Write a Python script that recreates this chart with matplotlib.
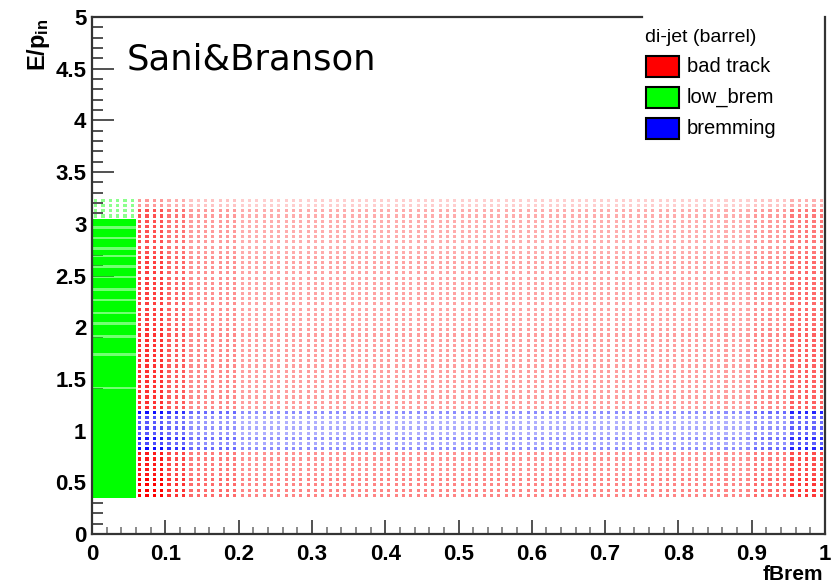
import numpy as np
import matplotlib
matplotlib.use("Agg")
import matplotlib.pyplot as plt
from matplotlib.ticker import MultipleLocator, FuncFormatter
from matplotlib.patches import Rectangle

plt.rcParams["mathtext.fontset"] = "custom"
plt.rcParams["mathtext.bf"] = "Liberation Sans:bold"
plt.rcParams["mathtext.rm"] = "Liberation Sans"

# fBrem bin centres (width 0.01) and E/p_in bin centres (width 0.05)
fbrem_bins = np.round(np.arange(0.005, 1.0, 0.01), 4)
ep_bins = np.round(np.arange(0.375, 3.25, 0.05), 4)

# occupancy level per fBrem band
fbrem_band_edges = [0.06, 0.10, 0.13, 0.20, 0.50, 0.90, 0.95, 1.00]
bad_track_fbrem_level = [1.00, 0.80, 0.58, 0.48, 0.48, 0.58, 0.78]
bremming_fbrem_level = [1.00, 0.85, 0.62, 0.48, 0.48, 0.62, 0.90]

# occupancy level per E/p_in band (bad track)
ep_band_edges = [0.35, 0.55, 0.80, 1.20, 2.00, 2.70, 3.15, 3.25]
bad_track_ep_level = [1.00, 0.90, 0.00, 0.80, 0.75, 0.68, 0.40]

# bremming rows
bremming_ep_rows = [0.825, 0.875, 0.925, 0.975, 1.025, 1.075, 1.125, 1.175]
bremming_ep_level = [0.95, 0.70, 0.90, 0.65, 0.70, 0.65, 0.70, 0.95]

# low_brem: fBrem < 0.06, finer E/p rows (width 0.025) in the dense part
low_brem_fbrem = [0.005, 0.015, 0.025, 0.035, 0.045, 0.055]
low_brem_ep_rows = np.round(np.arange(0.3625, 3.05, 0.025), 4)
low_brem_faint_rows = [1.4125, 1.7375, 1.9125, 2.0375, 2.1375, 2.2625, 2.3625,
                       2.4875, 2.5875, 2.6875, 2.7625, 2.8625, 2.9625]
low_brem_sparse_rows = [3.075, 3.125, 3.175, 3.225]

legend_title = "di-jet (barrel)"
legend_labels = ["bad track", "low_brem", "bremming"]
legend_colors = ["#ff0000", "#00ff00", "#0000ff"]


def band_level(values, edges, levels):
    idx = np.clip(np.digitize(values, edges) - 1, 0, len(levels) - 1)
    return np.asarray(levels)[idx]


def rgba(channel, alpha):
    out = np.zeros((len(alpha), 4))
    out[:, channel] = 1.0
    out[:, 3] = np.clip(alpha, 0, 1)
    return out


fig = plt.figure(figsize=(8.34, 5.88), dpi=100)
ax = fig.add_axes([92 / 834, 1 - 534 / 588, (825 - 92) / 834, (534 - 17) / 588])

dot = 5.0

# bad track cells
gx, gy = np.meshgrid(fbrem_bins, ep_bins)
gx, gy = gx.ravel(), gy.ravel()
sel = gx > 0.06
bx, by = gx[sel], gy[sel]
a_bad = band_level(bx, fbrem_band_edges, bad_track_fbrem_level) * \
    band_level(by, ep_band_edges, bad_track_ep_level)
keep = a_bad > 0
ax.scatter(bx[keep], by[keep], s=dot, marker="s", c=rgba(0, a_bad[keep]),
           linewidths=0, zorder=2)

# bremming cells
mx, my = np.meshgrid(fbrem_bins[fbrem_bins > 0.06], bremming_ep_rows)
mx, my = mx.ravel(), my.ravel()
row_lvl = dict(zip(bremming_ep_rows, bremming_ep_level))
a_brem = band_level(mx, fbrem_band_edges, bremming_fbrem_level) * \
    np.array([row_lvl[v] for v in my])
ax.scatter(mx, my, s=dot, marker="s", c=rgba(2, a_brem), linewidths=0, zorder=2)

# low_brem dense cells
lx, ly = np.meshgrid(low_brem_fbrem, low_brem_ep_rows)
lx, ly = lx.ravel(), ly.ravel()
faint = np.isin(np.round(ly, 4), low_brem_faint_rows)
a_low = np.where(faint, 0.55, 1.0)
bar_marker = [(-0.5, -0.18), (0.5, -0.18), (0.5, 0.18), (-0.5, 0.18)]
ax.scatter(lx, ly, s=28, marker=bar_marker, c=rgba(1, a_low), linewidths=0, zorder=3)

# low_brem sparse cells above the dense block
sx, sy = np.meshgrid(low_brem_fbrem, low_brem_sparse_rows)
ax.scatter(sx.ravel(), sy.ravel(), s=dot, marker="s",
           c=rgba(1, np.full(sx.size, 0.45)), linewidths=0, zorder=3)

ax.set_xlim(0, 1)
ax.set_ylim(0, 5)

# frame
for side in ["left", "bottom", "right", "top"]:
    ax.spines[side].set_linewidth(1.6)
    ax.spines[side].set_color("#333333")
    ax.spines[side].set_zorder(4)
ax.spines["top"].set_bounds(0, 0.75)

fmt = FuncFormatter(lambda v, p: f"{v:g}")
ax.xaxis.set_major_locator(MultipleLocator(0.1))
ax.xaxis.set_minor_locator(MultipleLocator(0.02))
ax.yaxis.set_major_locator(MultipleLocator(0.5))
ax.yaxis.set_minor_locator(MultipleLocator(0.1))
ax.xaxis.set_major_formatter(fmt)
ax.yaxis.set_major_formatter(fmt)
ax.tick_params(axis="x", which="major", direction="in", length=10, width=1.2,
               color="#333333", pad=7)
ax.tick_params(axis="x", which="minor", direction="in", length=5, width=1.2,
               color="#777777")
ax.tick_params(axis="y", which="major", direction="in", length=16, width=1.2,
               color="#333333", pad=4)
ax.tick_params(axis="y", which="minor", direction="in", length=8, width=1.2,
               color="#333333")
for lab in ax.get_xticklabels() + ax.get_yticklabels():
    lab.set_fontfamily("Liberation Sans")
    lab.set_fontweight("bold")
    lab.set_fontsize(16)

fig.text(823 / 834, 1 - 574 / 588, "fBrem", ha="right", va="center",
         fontsize=15, fontweight="bold", family="Liberation Sans")
fig.text(39 / 834, 1 - 18 / 588, r"$\mathbf{E/p_{in}}$", ha="center", va="top",
         rotation=90, fontsize=17)

fig.text(127 / 834, 1 - 70 / 588, "Sani&Branson", ha="left", va="baseline",
         fontsize=25.5, family="DejaVu Sans")

# legend
fig.text(645 / 834, 1 - 37 / 588, legend_title, ha="left", va="center",
         fontsize=14, family="Liberation Sans")
for i, (lab, colr) in enumerate(zip(legend_labels, legend_colors)):
    top = 56 + 31 * i
    fig.patches.append(Rectangle((646 / 834, 1 - (top + 21) / 588), 33 / 834, 21 / 588,
                                 transform=fig.transFigure, facecolor=colr,
                                 edgecolor="black", linewidth=1.5))
    fig.text(687 / 834, 1 - (top + 10.5) / 588, lab, ha="left", va="center",
             fontsize=14.5, family="Liberation Sans")

fig.savefig("out.png", dpi=100)
